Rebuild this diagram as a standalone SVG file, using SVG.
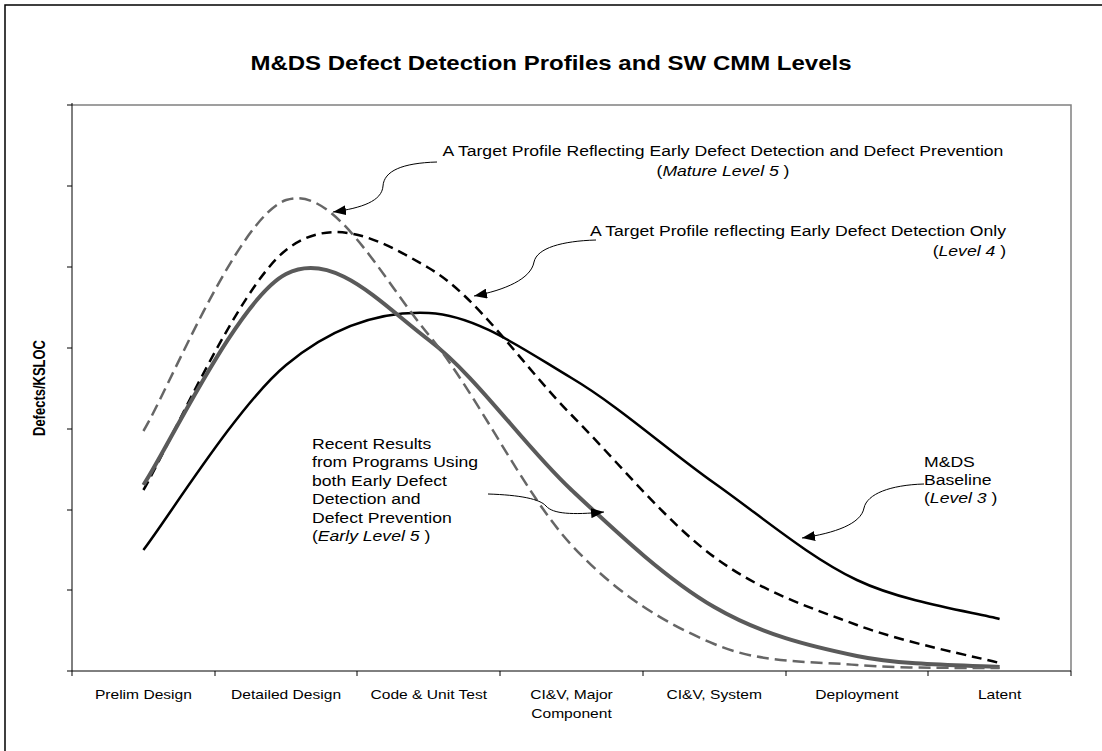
<svg xmlns="http://www.w3.org/2000/svg" width="1102" height="751" viewBox="0 0 1102 751">
<style>
text{font-family:"Liberation Sans",Arial,sans-serif;fill:#000}
.title{font-size:20px;font-weight:bold}
.ann{font-size:14.67px}
.xl{font-size:13px}
.yl{font-size:13px;font-weight:bold}
.axis{stroke:#000;stroke-width:1;fill:none}
.frame{stroke:#808080;stroke-width:1.5;fill:none}
.base{stroke:#000;stroke-width:2.5;fill:none}
.l4{stroke:#000;stroke-width:2.5;fill:none;stroke-dasharray:10 6}
.e5{stroke:#5a5a5a;stroke-width:4;fill:none}
.m5{stroke:#666;stroke-width:2.5;fill:none;stroke-dasharray:12 6}
.conn{stroke:#000;stroke-width:1;fill:none;marker-end:url(#ah)}
</style>
<defs>
<marker id="ah" markerUnits="userSpaceOnUse" markerWidth="14" markerHeight="10" refX="13" refY="5" orient="auto">
<path d="M0,0 L13,5 L0,10 Z" fill="#000"/>
</marker>
</defs>
<rect x="5" y="5" width="1100" height="750" fill="#fff" stroke="#000" stroke-width="1.5"/>
<text class="title" transform="translate(551,70) scale(1.2,1)" text-anchor="middle">M&amp;DS Defect Detection Profiles and SW CMM Levels</text>

<g id="plot-area">
<path class="frame" d="M72,105 H1071 V671"/>
<path class="axis" d="M72,103 V671 H1071"/>
<path class="axis" d="M67,105 H72 M67,186 H72 M67,267 H72 M67,348 H72 M67,429 H72 M67,510 H72 M67,590 H72 M67,671 H72"/>
<path class="axis" d="M72,671 V676 M215,671 V676 M357,671 V676 M500,671 V676 M643,671 V676 M786,671 V676 M928,671 V676 M1071,671 V676"/>
</g>

<g id="y-axis-label">
<text class="yl" transform="translate(45,388) rotate(-90) scale(1,1.2)" text-anchor="middle">Defects/KSLOC</text>
</g>

<g id="x-axis-labels">
<text class="xl" transform="translate(143.4,699) scale(1.2,1)" text-anchor="middle">Prelim Design</text>
<text class="xl" transform="translate(286.1,699) scale(1.2,1)" text-anchor="middle">Detailed Design</text>
<text class="xl" transform="translate(428.8,699) scale(1.2,1)" text-anchor="middle">Code &amp; Unit Test</text>
<text class="xl" transform="translate(571.5,699) scale(1.2,1)" text-anchor="middle">CI&amp;V, Major</text>
<text class="xl" transform="translate(571.5,718) scale(1.2,1)" text-anchor="middle">Component</text>
<text class="xl" transform="translate(714.2,699) scale(1.2,1)" text-anchor="middle">CI&amp;V, System</text>
<text class="xl" transform="translate(856.9,699) scale(1.2,1)" text-anchor="middle">Deployment</text>
<text class="xl" transform="translate(999.6,699) scale(1.2,1)" text-anchor="middle">Latent</text>
</g>

<g id="series">
<path id="baseline-level3" class="base" d="M143.4,550 C167.2,519.2 238.5,404.5 286.1,365 C333.7,325.5 381.2,310.8 428.8,313 C476.4,315.2 523.9,349.7 571.5,378 C619.1,406.3 666.6,449.3 714.2,483 C761.8,516.7 809.3,557.3 856.9,580 C904.5,602.7 975.8,612.5 999.6,619"/>
<path id="level4" class="l4" d="M143.4,490 C167.2,450 238.5,287 286.1,250 C333.7,213 381.2,240.5 428.8,268 C476.4,295.5 523.9,366.8 571.5,415 C619.1,463.2 666.6,522 714.2,557 C761.8,592 809.3,607.3 856.9,625 C904.5,642.7 975.8,656.7 999.6,663"/>
<path id="early-level5" class="e5" d="M143.4,485 C167.2,449.8 238.5,298.2 286.1,274 C333.7,249.8 381.2,304 428.8,340 C476.4,376 523.9,445.5 571.5,490 C619.1,534.5 666.6,579.3 714.2,607 C761.8,634.7 809.3,646 856.9,656 C904.5,666 975.8,665.2 999.6,667"/>
<path id="mature-level5" class="m5" d="M143.4,431 C167.2,392.5 238.5,216 286.1,200 C333.7,184 381.2,277.5 428.8,335 C476.4,392.5 523.9,493.5 571.5,545 C619.1,596.5 666.6,624 714.2,644 C761.8,664 809.3,661 856.9,665 C904.5,669 975.8,667.5 999.6,668"/>
</g>

<g id="connectors">
<path class="conn" d="M437,162 C402,163 384,171 383,186 C382,201 362,208 333,212"/>
<path class="conn" d="M596,240 C562,241 537,248 534,262 C531,279 505,290 474,296"/>
<path class="conn" d="M924,484 C890,485 867,494 864,508 C861,524 835,533 802,538"/>
<path class="conn" d="M488,494 C520,495 540,499 546,506 C553,514 572,515 604,512"/>
</g>

<g id="note-mature-level5">
<text class="ann" transform="translate(723,156) scale(1.2,1)" text-anchor="middle">A Target Profile Reflecting Early Defect Detection and Defect Prevention</text>
<text class="ann" transform="translate(723,176) scale(1.2,1)" text-anchor="middle">(<tspan font-style="italic">Mature Level 5</tspan> )</text>
</g>
<g id="note-level4">
<text class="ann" transform="translate(1006,236) scale(1.2,1)" text-anchor="end">A Target Profile reflecting Early Defect Detection Only</text>
<text class="ann" transform="translate(1006,256) scale(1.2,1)" text-anchor="end">(<tspan font-style="italic">Level 4</tspan> )</text>
</g>
<g id="note-baseline">
<text class="ann" transform="translate(924,467) scale(1.2,1)">M&amp;DS</text>
<text class="ann" transform="translate(924,485) scale(1.2,1)">Baseline</text>
<text class="ann" transform="translate(924,503) scale(1.2,1)">(<tspan font-style="italic">Level 3</tspan> )</text>
</g>
<g id="note-early-level5">
<text class="ann" transform="translate(312,449) scale(1.2,1)">Recent Results</text>
<text class="ann" transform="translate(312,467.4) scale(1.2,1)">from Programs Using</text>
<text class="ann" transform="translate(312,485.8) scale(1.2,1)">both Early Defect</text>
<text class="ann" transform="translate(312,504.2) scale(1.2,1)">Detection and</text>
<text class="ann" transform="translate(312,522.6) scale(1.2,1)">Defect Prevention</text>
<text class="ann" transform="translate(312,541) scale(1.2,1)">(<tspan font-style="italic">Early Level 5</tspan> )</text>
</g>
</svg>
